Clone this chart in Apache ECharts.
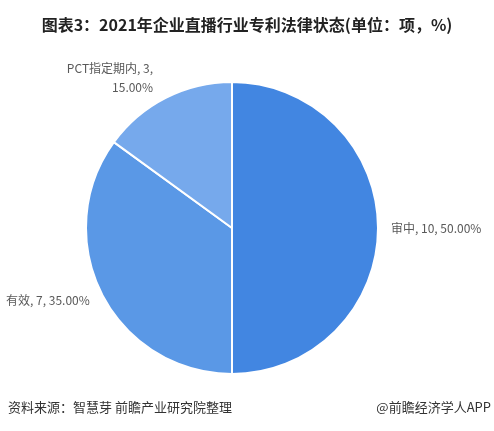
<!DOCTYPE html>
<html><head><meta charset="utf-8">
<script src="https://cdn.jsdelivr.net/npm/echarts@6/dist/echarts.min.js"></script>
<style>html,body{margin:0;padding:0;background:#fff}#c{width:494px;height:431px}</style>
</head><body><div id="c"></div>
<script>
const categories = ['审中', '有效', 'PCT指定期内'];
const values = [10, 7, 3];
const colors = ['#4286E1', '#5A98E6', '#76A9EC'];
const total = values.reduce((a, b) => a + b, 0);
const chart = echarts.init(document.getElementById('c'));
chart.setOption({
  animation: false,
  title: {
    text: '图表3：2021年企业直播行业专利法律状态(单位：项，%)',
    left: 'center', top: 12,
    textStyle: { fontSize: 16, fontWeight: 'bold', color: '#222', fontFamily: 'Noto Sans CJK SC' }
  },
  graphic: [
    { type: 'text', left: 8, top: 401, style: { text: '资料来源：智慧芽 前瞻产业研究院整理', fontSize: 13, fill: '#333', fontFamily: 'Noto Sans CJK SC' } },
    { type: 'text', right: 3, top: 401, style: { text: '@前瞻经济学人APP', fontSize: 13, fill: '#333', fontFamily: 'Noto Sans CJK SC' } }
  ],
  series: [{
    type: 'pie',
    center: [232, 228],
    radius: [0, 146],
    startAngle: 90,
    clockwise: true,
    itemStyle: { borderColor: '#fff', borderWidth: 2 },
    label: {
      show: true, position: 'outside', color: '#595959', fontSize: 12,
      fontFamily: 'Noto Sans CJK SC', lineHeight: 19, align: 'center', overflow: 'none',
      formatter: p => {
        const pct = (p.value / total * 100).toFixed(2) + '%';
        return p.dataIndex === 2 ? `${p.name}, ${p.value},\n${pct}` : `${p.name}, ${p.value}, ${pct}`;
      }
    },
    labelLayout: p => p.dataIndex === 2 ? { dx: -4, dy: -13 } : (p.dataIndex === 1 ? { dx: 0, dy: 3 } : {}),
    labelLine: { show: false, length: 8, length2: 0 },
    data: categories.map((n, i) => ({ name: n, value: values[i], itemStyle: { color: colors[i] } }))
  }]
});
</script></body></html>
